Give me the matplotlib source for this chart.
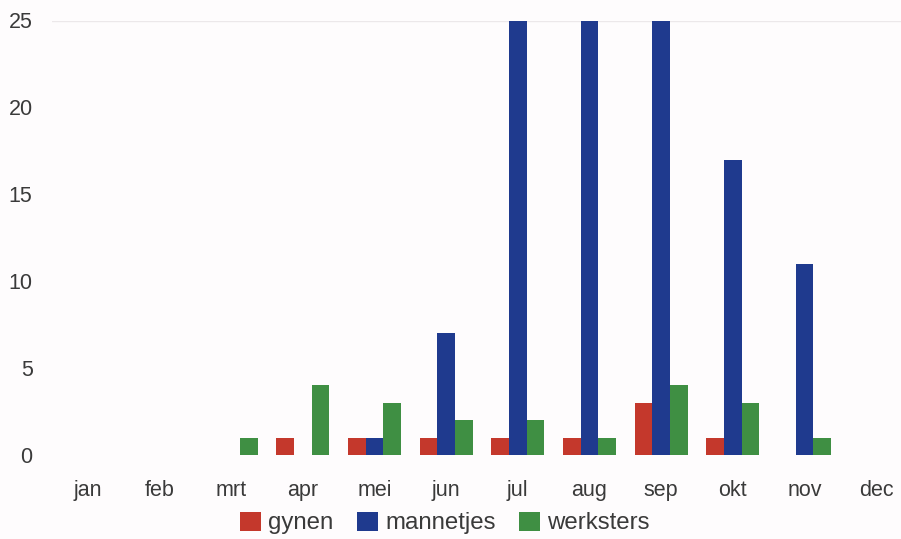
import matplotlib
matplotlib.use("Agg")
import matplotlib.pyplot as plt
import numpy as np

months = ["jan", "feb", "mrt", "apr", "mei", "jun", "jul", "aug", "sep", "okt", "nov", "dec"]
series_names = ["gynen", "mannetjes", "werksters"]
gynen = [0, 0, 0, 1, 1, 1, 1, 1, 3, 1, 0, 0]
mannetjes = [0, 0, 0, 0, 1, 7, 25, 25, 25, 17, 11, 0]
werksters = [0, 0, 1, 4, 3, 2, 2, 1, 4, 3, 1, 0]
y_ticks = [0, 5, 10, 15, 20, 25]

colors = ["#c4382c", "#1f3a8e", "#3f8f43"]
text_color = "#3a3a3a"
bg = "#fefcfd"

plt.rcParams["font.family"] = ["Liberation Sans", "DejaVu Sans"]

fig = plt.figure(figsize=(9.01, 5.39), dpi=100, facecolor=bg)
ax = fig.add_axes([52 / 901, 84 / 539, 860 / 901, 434.5 / 539], facecolor=bg)

x = np.arange(len(months))
w = 0.245
for i, (vals, name) in enumerate(zip([gynen, mannetjes, werksters], series_names)):
    ax.bar(x + (i - 1) * w, vals, width=w, color=colors[i], label=name, zorder=2)

ax.set_xlim(-0.5, len(months) - 0.5)
ax.set_ylim(0, 25)
ax.set_yticks(y_ticks)
ax.set_yticklabels([str(t) for t in y_ticks])
ax.set_xticks(x)
ax.set_xticklabels(months)
ax.tick_params(axis="y", length=0, pad=14, labelsize=15.5, labelcolor=text_color)
ax.tick_params(axis="x", length=0, pad=18, labelsize=15.5, labelcolor=text_color)
ax.axhline(25, color="#ece8ea", lw=1.0, zorder=1)
for s in ax.spines.values():
    s.set_visible(False)

fig.legend(loc="center", bbox_to_anchor=(445 / 901, 1 - 523 / 539), ncol=3,
           frameon=False, fontsize=17.3, handlelength=0.85, handleheight=0.85,
           handletextpad=0.3, columnspacing=1.0, labelcolor=text_color)

fig.savefig("out.png", dpi=100, facecolor=bg)
